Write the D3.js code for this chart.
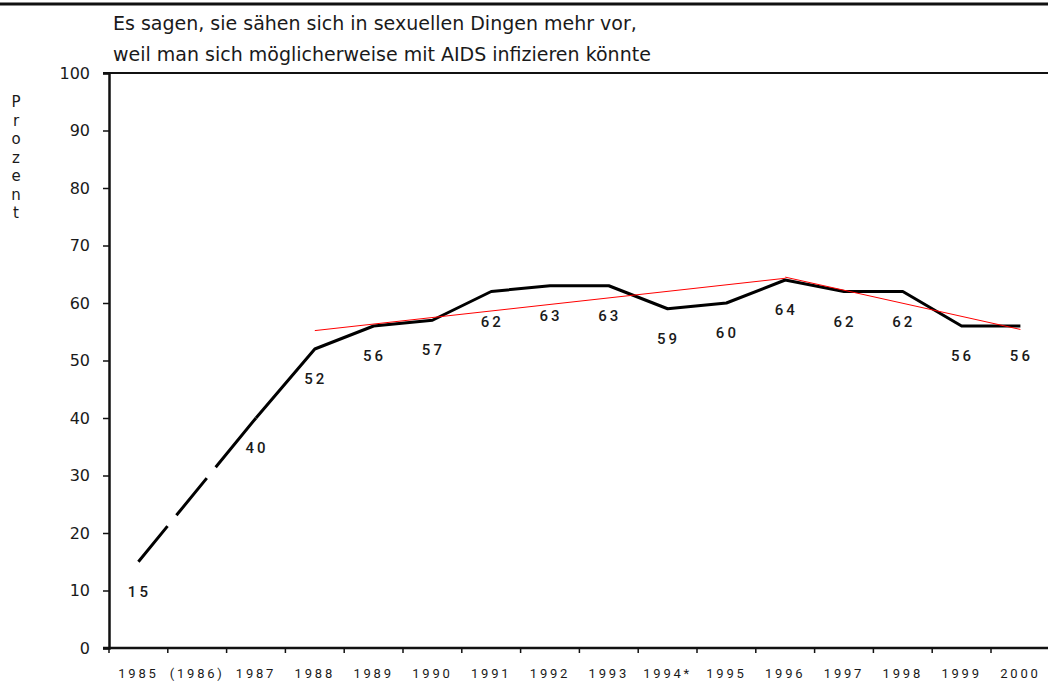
<!DOCTYPE html>
<html>
<head>
<meta charset="utf-8">
<script src="https://cdn.jsdelivr.net/npm/d3@7"></script>
<style>
  body { margin: 0; background: #fff; }
  svg { display: block; }
  text { fill: #1a1a1a; }
</style>
</head>
<body>
<div id="chart"></div>
<script>
// survey data (Prozent)
var years = ['1985', '(1986)', '1987', '1988', '1989', '1990', '1991', '1992',
             '1993', '1994*', '1995', '1996', '1997', '1998', '1999', '2000'];
var values = [15, null, 40, 52, 56, 57, 62, 63, 63, 59, 60, 64, 62, 62, 56, 56];
var yTicks = [0, 10, 20, 30, 40, 50, 60, 70, 80, 90, 100];
// red trend lines
var trendUp = [['1988', 55.2], ['1996', 64.3]];
var trendDown = [['1996', 64.5], ['2000', 55.4]];
var titleLines = ['Es sagen, sie sähen sich in sexuellen Dingen mehr vor,',
                  'weil man sich möglicherweise mit AIDS infizieren könnte'];
var yLabel = 'Prozent';

var w = 1048, h = 684;
var plotLeft = 109, plotTop = 73, plotBottom = 648;
var band = 58.8;

var svg = d3.select('#chart').append('svg')
    .attr('width', w)
    .attr('height', h);

var x = d3.scaleBand()
    .domain(years)
    .range([plotLeft, plotLeft + band * years.length])
    .padding(0);

var y = d3.scaleLinear()
    .domain([0, 100])
    .range([plotBottom, plotTop]);

var cx = function(d) { return x(d) + x.bandwidth() / 2; };

// rule at the very top
svg.append('line')
    .attr('x1', 0).attr('x2', w)
    .attr('y1', 4).attr('y2', 4)
    .attr('stroke', '#111').attr('stroke-width', 3);

// title
var title = svg.append('g')
    .style('font-family', "'DejaVu Sans', sans-serif")
    .style('font-size', '19px');
titleLines.forEach(function(t, i) {
  title.append('text')
      .attr('x', 113)
      .attr('y', 30 + i * 31)
      .text(t);
});

// top frame line
svg.append('line')
    .attr('x1', plotLeft - 6).attr('x2', w)
    .attr('y1', y(100)).attr('y2', y(100))
    .attr('stroke', '#111').attr('stroke-width', 2);

// y axis
var yAxis = svg.append('g')
    .attr('transform', 'translate(' + plotLeft + ',0)')
    .call(d3.axisLeft(y).tickValues(yTicks).tickSize(6).tickPadding(13));
yAxis.select('.domain').attr('stroke', '#111').attr('stroke-width', 2.5);
yAxis.selectAll('.tick line').attr('stroke', '#111').attr('stroke-width', 1.5);
yAxis.selectAll('.tick text')
    .style('font-family', "'DejaVu Sans', sans-serif")
    .style('font-size', '16px')
    .attr('fill', '#1a1a1a');

// x axis: labels at band centres, ticks at band edges
var xAxis = svg.append('g')
    .attr('transform', 'translate(0,' + plotBottom + ')')
    .call(d3.axisBottom(x).tickSize(0).tickPadding(21));
xAxis.select('.domain').remove();
xAxis.selectAll('.tick text')
    .style('font-family', 'Roboto, sans-serif')
    .style('font-size', '13px')
    .attr('letter-spacing', 2.8)
    .attr('fill', '#1a1a1a');

svg.append('line')
    .attr('x1', plotLeft - 6).attr('x2', w)
    .attr('y1', plotBottom).attr('y2', plotBottom)
    .attr('stroke', '#111').attr('stroke-width', 2.5);

svg.append('g').selectAll('line')
    .data(years)
    .enter().append('line')
    .attr('x1', function(d) { return x(d); })
    .attr('x2', function(d) { return x(d); })
    .attr('y1', plotBottom).attr('y2', plotBottom + 5)
    .attr('stroke', '#111').attr('stroke-width', 1.5);

// y label, stacked letters
var yl = svg.append('text')
    .style('font-family', "'DejaVu Sans', sans-serif")
    .style('font-size', '15px')
    .attr('text-anchor', 'middle');
yLabel.split('').forEach(function(c, i) {
  yl.append('tspan')
      .attr('x', 16)
      .attr('y', 107 + i * 18.5)
      .text(c);
});

// data line
var pts = years.map(function(d, i) { return { year: d, v: values[i] }; });
var line = d3.line()
    .x(function(d) { return cx(d.year); })
    .y(function(d) { return y(d.v); });

var known = pts.filter(function(d) { return d.v !== null; });
// dashed bridge over the missing year
svg.append('path')
    .datum(known.slice(0, 2))
    .attr('d', line)
    .attr('fill', 'none')
    .attr('stroke', '#000')
    .attr('stroke-width', 3)
    .attr('stroke-dasharray', '46 14 48 14 400');

svg.append('path')
    .datum(known.slice(1))
    .attr('d', line)
    .attr('fill', 'none')
    .attr('stroke', '#000')
    .attr('stroke-width', 3)
    .attr('stroke-linejoin', 'round');

// trend lines
var tline = d3.line()
    .x(function(d) { return cx(d[0]); })
    .y(function(d) { return y(d[1]); });
[trendUp, trendDown].forEach(function(t) {
  svg.append('path')
      .attr('d', tline(t))
      .attr('fill', 'none')
      .attr('stroke', '#ff0000')
      .attr('stroke-width', 1);
});

// value labels
svg.append('g').selectAll('text')
    .data(known)
    .enter().append('text')
    .attr('x', function(d) { return cx(d.year) + 1; })
    .attr('y', function(d) { return y(d.v) + 35; })
    .attr('text-anchor', 'middle')
    .style('font-family', 'Roboto, sans-serif')
    .style('font-size', '15px')
    .style('font-weight', 500)
    .attr('letter-spacing', 3)
    .attr('fill', '#1a1a1a')
    .text(function(d) { return d.v; });
</script>
</body>
</html>
